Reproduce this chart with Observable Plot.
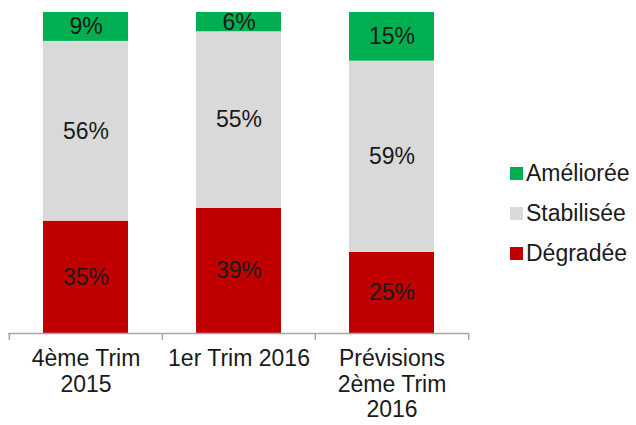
<!DOCTYPE html>
<html><head><meta charset="utf-8">
<script src="https://cdn.jsdelivr.net/npm/d3@7"></script>
<script src="https://cdn.jsdelivr.net/npm/@observablehq/plot@0.6"></script>
<style>
body{margin:0;background:#fff;font-family:"Liberation Sans",Arial,sans-serif;}
#wrap{position:relative;width:636px;height:425px;}
#legend{position:absolute;left:510px;top:153px;font-size:23px;color:#1a1a1a;}
#legend div{display:flex;align-items:center;height:40px;white-space:nowrap;}
#legend span.sw{display:inline-block;width:13px;height:13px;margin-right:3px;}
</style></head><body>
<div id="wrap"><div id="legend"></div></div>
<script>
const categories = ["4ème Trim\n2015", "1er Trim 2016", "Prévisions\n2ème Trim\n2016"];
const series = ["Dégradée", "Stabilisée", "Améliorée"];
const colors = ["#c00000", "#d9d9d9", "#00b050"];
const degradee = [35, 39, 25];
const stabilisee = [56, 55, 59];
const amelioree = [9, 6, 15];

const values = [degradee, stabilisee, amelioree];
const data = [];
series.forEach((s, si) => categories.forEach((c, ci) => data.push({cat: c, series: s, value: values[si][ci]})));

const W = 636, H = 425, mL = 8, mR = 168, mT = 12, mB = 92;
const bw = (W - mL - mR) / categories.length;
const inset = 34;

const stack = {x: "cat", y: "value", z: "series", offset: "normalize", order: series};

const chart = Plot.plot({
  width: W, height: H,
  marginLeft: mL, marginRight: mR, marginTop: mT, marginBottom: mB,
  style: {fontFamily: "Liberation Sans, Arial, sans-serif", color: "#1a1a1a", background: "#fff"},
  x: {domain: categories, padding: 0, axis: null, label: null},
  y: {domain: [0, 1], axis: null},
  color: {domain: series, range: colors},
  marks: [
    Plot.barY(data, Plot.stackY({...stack, fill: "series", insetLeft: inset, insetRight: inset})),
    Plot.text(data, Plot.stackY({...stack, text: d => d.value + "%", fontSize: 23, fill: "#1a1a1a"})),
    Plot.ruleY([0], {stroke: "#a6a6a6", strokeWidth: 1.5}),
    Plot.ruleX(categories, {x: d => d, y1: 0, y2: 0, insetBottom: -7, dx: -bw / 2, stroke: "#a6a6a6", strokeWidth: 1.5}),
    Plot.ruleX(categories.slice(-1), {x: d => d, y1: 0, y2: 0, insetBottom: -7, dx: bw / 2, stroke: "#a6a6a6", strokeWidth: 1.5}),
    Plot.axisX({tickSize: 0, tickPadding: 15, fontSize: 23, lineHeight: 1.1, fill: "#1a1a1a", label: null})
  ]
});
const wrap = document.getElementById("wrap");
wrap.insertBefore(chart, wrap.firstChild);

const legend = document.getElementById("legend");
[...series].reverse().forEach(s => {
  const i = series.indexOf(s);
  const row = document.createElement("div");
  row.innerHTML = `<span class="sw" style="background:${colors[i]}"></span>${s}`;
  legend.appendChild(row);
});
</script>
</body></html>
